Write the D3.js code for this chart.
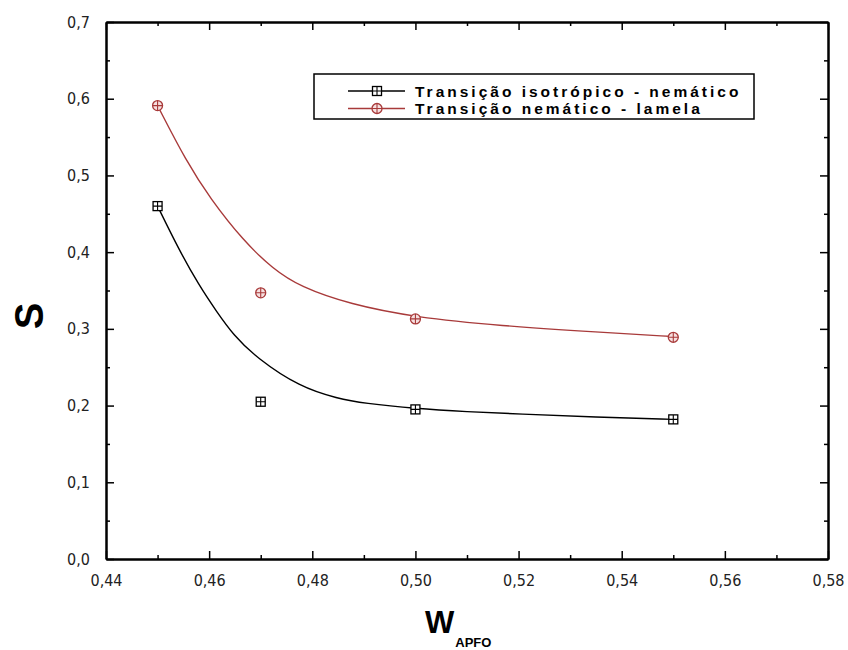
<!DOCTYPE html>
<html>
<head>
<meta charset="utf-8">
<script src="https://cdn.jsdelivr.net/npm/d3@7"></script>
<style>
  body { margin: 0; background: #fff; }
  svg { display: block; }
  .tick text { font-family: "Liberation Sans Narrow", "DejaVu Sans Condensed", Arial, sans-serif; font-size: 16px; fill: #222; }
  .legend-text { font-family: "Liberation Sans", Arial, sans-serif; font-weight: bold; font-size: 15.5px; letter-spacing: 3px; }
</style>
</head>
<body>
<svg id="chart" width="848" height="650"></svg>
<script>
// data
const wApfo = [0.45, 0.47, 0.50, 0.55];
const isoNem = [0.460, 0.205, 0.195, 0.182];
const nemLam = [0.591, 0.347, 0.313, 0.289];

// fitted curves
const isoFitX = [0.450, 0.454, 0.458, 0.4615, 0.4647, 0.4692, 0.4776, 0.485, 0.490, 0.500, 0.510, 0.520, 0.535, 0.550];
const isoFitY = [0.460, 0.405, 0.357, 0.322, 0.292, 0.262, 0.224, 0.209, 0.203, 0.196, 0.192, 0.189, 0.185, 0.182];
const lamFitX = [0.450, 0.4556, 0.4602, 0.4666, 0.4724, 0.4776, 0.4873, 0.500, 0.5164, 0.5357, 0.550];
const lamFitY = [0.591, 0.518, 0.470, 0.415, 0.378, 0.355, 0.332, 0.315, 0.304, 0.2955, 0.290];

const xMajor = [0.44, 0.46, 0.48, 0.50, 0.52, 0.54, 0.56, 0.58];
const xMinor = [0.45, 0.47, 0.49, 0.51, 0.53, 0.55, 0.57];
const yMajor = [0.0, 0.1, 0.2, 0.3, 0.4, 0.5, 0.6, 0.7];
const yMinor = [0.05, 0.15, 0.25, 0.35, 0.45, 0.55, 0.65];

const seriesNames = ["Transição isotrópico - nemático", "Transição nemático - lamela"];

let svg = d3.select("#chart");
let mLeft = 106, mRight = 828, mTop = 22, mBottom = 559;

let x = d3.scaleLinear().domain([0.44, 0.58]).range([mLeft, mRight]);
let y = d3.scaleLinear().domain([0, 0.7]).range([mBottom, mTop]);

let ptBr = d3.formatLocale({decimal: ",", thousands: ".", grouping: [3], currency: ["", ""]});
let fx = ptBr.format(".2f");
let fy = ptBr.format(".1f");

// frame axes, ticks pointing inward
function styleAxis(g) {
    g.select(".domain").attr("stroke", "#000").attr("stroke-width", 2);
    g.selectAll(".tick line").attr("stroke", "#000").attr("stroke-width", 1.5);
}

svg.append("g").attr("transform", `translate(0,${mBottom})`)
    .call(d3.axisBottom(x).tickValues(xMajor).tickFormat(fx).tickSizeInner(-8).tickSizeOuter(0).tickPadding(16))
    .call(styleAxis);
svg.append("g").attr("transform", `translate(0,${mBottom})`)
    .call(d3.axisBottom(x).tickValues(xMinor).tickFormat("").tickSizeInner(-4).tickSizeOuter(0))
    .call(styleAxis);
svg.append("g").attr("transform", `translate(0,${mTop})`)
    .call(d3.axisTop(x).tickValues(xMajor).tickFormat("").tickSizeInner(-8).tickSizeOuter(0))
    .call(styleAxis);
svg.append("g").attr("transform", `translate(0,${mTop})`)
    .call(d3.axisTop(x).tickValues(xMinor).tickFormat("").tickSizeInner(-4).tickSizeOuter(0))
    .call(styleAxis);

svg.append("g").attr("transform", `translate(${mLeft},0)`)
    .call(d3.axisLeft(y).tickValues(yMajor).tickFormat(fy).tickSizeInner(-8).tickSizeOuter(0).tickPadding(16))
    .call(styleAxis);
svg.append("g").attr("transform", `translate(${mLeft},0)`)
    .call(d3.axisLeft(y).tickValues(yMinor).tickFormat("").tickSizeInner(-4).tickSizeOuter(0))
    .call(styleAxis);
svg.append("g").attr("transform", `translate(${mRight},0)`)
    .call(d3.axisRight(y).tickValues(yMajor).tickFormat("").tickSizeInner(-8).tickSizeOuter(0))
    .call(styleAxis);
svg.append("g").attr("transform", `translate(${mRight},0)`)
    .call(d3.axisRight(y).tickValues(yMinor).tickFormat("").tickSizeInner(-4).tickSizeOuter(0))
    .call(styleAxis);

// fit lines
let line = d3.line().x(d => x(d[0])).y(d => y(d[1])).curve(d3.curveBasis);

svg.append("path")
    .datum(d3.zip(isoFitX, isoFitY))
    .attr("fill", "none").attr("stroke", "#000").attr("stroke-width", 1.4)
    .attr("d", line);
svg.append("path")
    .datum(d3.zip(lamFitX, lamFitY))
    .attr("fill", "none").attr("stroke", "#a83a3a").attr("stroke-width", 1.4)
    .attr("d", line);

// markers
function squareMark(g, cx, cy) {
    g.append("rect").attr("x", cx - 4.5).attr("y", cy - 4.5).attr("width", 9).attr("height", 9)
        .attr("fill", "#fff").attr("stroke", "#000").attr("stroke-width", 1.3);
    g.append("path").attr("d", `M${cx - 4.5},${cy}H${cx + 4.5}M${cx},${cy - 4.5}V${cy + 4.5}`)
        .attr("stroke", "#000").attr("stroke-width", 1.1);
}
function circleMark(g, cx, cy) {
    g.append("circle").attr("cx", cx).attr("cy", cy).attr("r", 5)
        .attr("fill", "#f6e0e0").attr("stroke", "#a83a3a").attr("stroke-width", 1.3);
    g.append("path").attr("d", `M${cx - 5},${cy}H${cx + 5}M${cx},${cy - 5}V${cy + 5}`)
        .attr("stroke", "#a83a3a").attr("stroke-width", 1.1);
}

let marks = svg.append("g");
wApfo.forEach((w, i) => {
    squareMark(marks, x(w), y(isoNem[i]));
    circleMark(marks, x(w), y(nemLam[i]));
});

// legend
let legend = svg.append("g");
legend.append("rect").attr("x", 314).attr("y", 74).attr("width", 440).attr("height", 45)
    .attr("fill", "#fff").attr("stroke", "#000").attr("stroke-width", 1.5);
let rows = [91, 108.5];
rows.forEach((ry, i) => {
    legend.append("line").attr("x1", 348).attr("x2", 405).attr("y1", ry).attr("y2", ry)
        .attr("stroke", i === 0 ? "#000" : "#a83a3a").attr("stroke-width", 1.4);
    if (i === 0) squareMark(legend, 377, ry); else circleMark(legend, 377, ry);
    legend.append("text").attr("class", "legend-text")
        .attr("x", 415).attr("y", ry + 5.5)
        .attr("fill", "#000")
        .text(seriesNames[i]);
});

// axis titles
svg.append("text")
    .attr("transform", "rotate(-90)")
    .attr("x", -316).attr("y", 43)
    .attr("text-anchor", "middle")
    .style("font-family", "Liberation Sans, Arial, sans-serif")
    .style("font-weight", "bold").style("font-size", "40px")
    .text("S");

let xt = svg.append("text")
    .attr("x", 425).attr("y", 633)
    .style("font-family", "Liberation Sans, Arial, sans-serif")
    .style("font-weight", "bold");
xt.append("tspan").style("font-size", "31px").text("W");
xt.append("tspan").attr("dy", 14).attr("dx", 1).style("font-size", "13px").text("APFO");
</script>
</body>
</html>
